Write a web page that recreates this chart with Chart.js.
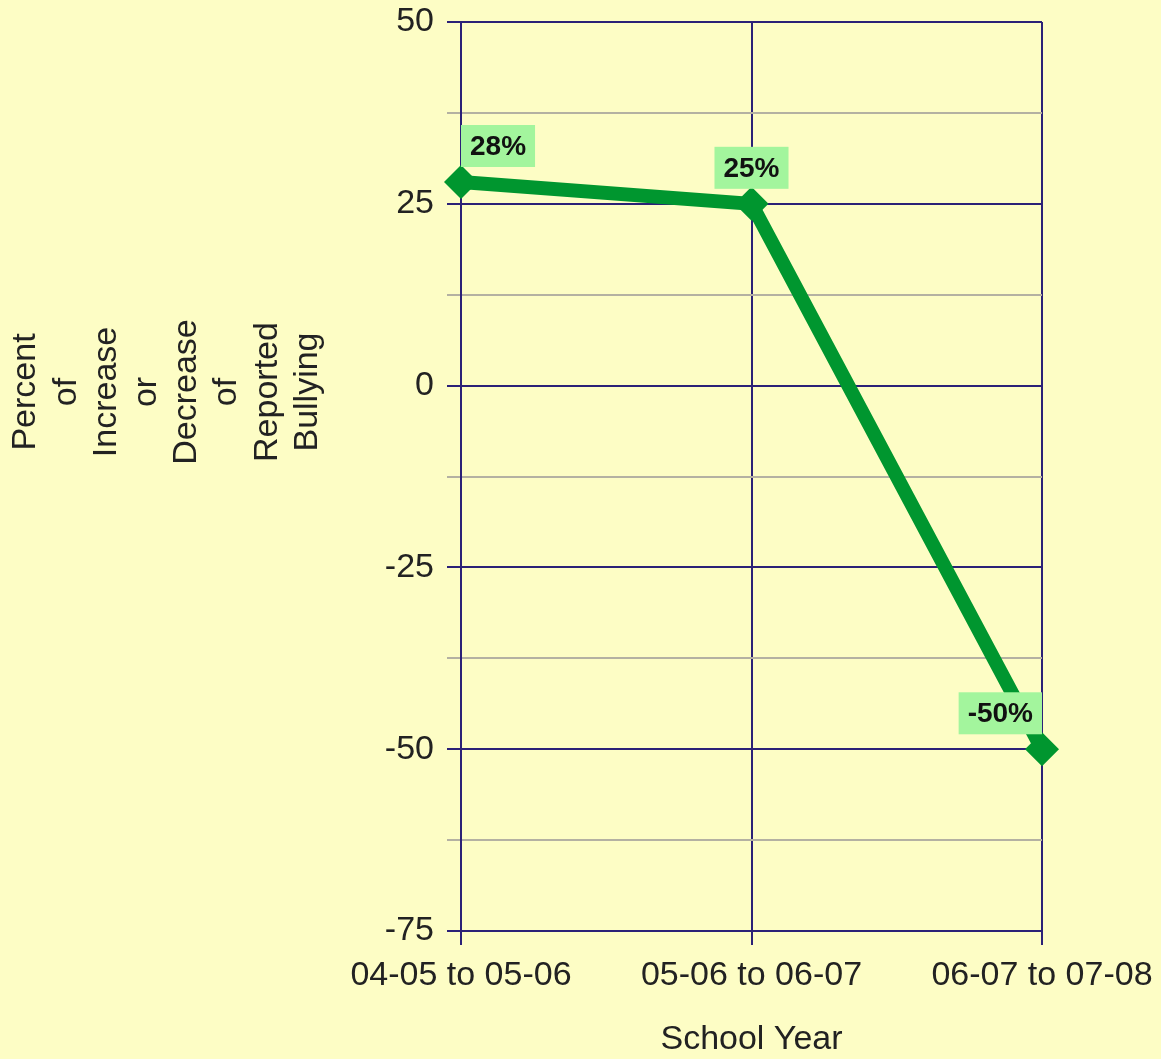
<!DOCTYPE html>
<html>
<head>
<meta charset="utf-8">
<script src="https://cdn.jsdelivr.net/npm/chart.js@4.4.1/dist/chart.umd.min.js"></script>
<style>
  html, body { margin: 0; padding: 0; background: #fdfdc5; }
  #wrap { width: 1161px; height: 1059px; }
</style>
</head>
<body>
<div id="wrap"><canvas id="chart" width="1161" height="1059"></canvas></div>
<script>
const schoolYears = ["04-05 to 05-06", "05-06 to 06-07", "06-07 to 07-08"];
const changePct = [28, 25, -50];
const yTitleLines = ["Percent", "of", "Increase", "or", "Decrease", "of", "Reported", "Bullying"];
const xTitle = "School Year";

const navy = "#2b2177";
const gray = "#b4b1a2";
const green = "#00962f";

// rotated multi-line y title, Excel style (not centred on the plot)
const yTitlePlugin = {
  id: "yTitle",
  afterDraw(chart) {
    const ctx = chart.ctx;
    ctx.save();
    ctx.translate(0, 392);
    ctx.rotate(-Math.PI / 2);
    ctx.font = "34px 'Liberation Sans', Arial, sans-serif";
    ctx.fillStyle = "#222";
    ctx.textAlign = "center";
    ctx.textBaseline = "middle";
    yTitleLines.forEach((line, i) => {
      ctx.fillText(line, 0, 26 + i * 40.2);
    });
    ctx.restore();
  }
};

// value labels on light green boxes
const pointLabels = {
  id: "pointLabels",
  afterDatasetsDraw(chart) {
    const ctx = chart.ctx;
    const area = chart.chartArea;
    const meta = chart.getDatasetMeta(0);
    ctx.save();
    ctx.font = "bold 28px 'Liberation Sans', Arial, sans-serif";
    ctx.textBaseline = "middle";
    ctx.textAlign = "center";
    meta.data.forEach((pt, i) => {
      const txt = changePct[i] + "%";
      const w = ctx.measureText(txt).width + 18;
      const h = 42;
      let left = pt.x - w / 2;
      if (left < area.left) left = area.left;
      if (left + w > area.right) left = area.right - w;
      const top = pt.y - 15 - h;
      ctx.fillStyle = "#a3f59d";
      ctx.fillRect(left, top, w, h);
      ctx.fillStyle = "#111";
      ctx.fillText(txt, left + w / 2, top + h / 2 + 1);
    });
    ctx.restore();
  }
};

new Chart(document.getElementById("chart"), {
  type: "line",
  data: {
    labels: schoolYears,
    datasets: [{
      data: changePct,
      borderColor: green,
      backgroundColor: green,
      borderWidth: 14,
      pointStyle: "rectRot",
      pointRadius: 17,
      pointBackgroundColor: green,
      pointBorderWidth: 0,
      tension: 0,
      clip: false
    }]
  },
  options: {
    responsive: false,
    animation: false,
    layout: { padding: { left: 0, right: 119, top: 22, bottom: 0 } },
    plugins: {
      legend: { display: false },
      tooltip: { enabled: false }
    },
    scales: {
      x: {
        offset: false,
        afterFit(scale) { scale.paddingLeft = 0; scale.paddingRight = 0; },
        border: { color: navy, width: 2 },
        grid: { color: navy, lineWidth: 2, tickLength: 14, drawOnChartArea: true },
        ticks: {
          color: "#222",
          padding: 10,
          maxRotation: 0,
          font: { family: "'Liberation Sans', Arial, sans-serif", size: 34 }
        },
        title: {
          display: true,
          text: xTitle,
          color: "#222",
          padding: { top: 14, bottom: 0 },
          font: { family: "'Liberation Sans', Arial, sans-serif", size: 34, lineHeight: 1.15 }
        }
      },
      y: {
        min: -75,
        max: 50,
        afterFit(scale) {
          scale.width = 461;
          scale.paddingTop = 0;
          scale.paddingBottom = 0;
        },
        border: { color: navy, width: 2 },
        grid: {
          lineWidth: 2,
          tickLength: 14,
          color: c => (c.tick && c.tick.value % 25 === 0) ? navy : gray
        },
        ticks: {
          stepSize: 12.5,
          padding: 13,
          color: "#222",
          font: { family: "'Liberation Sans', Arial, sans-serif", size: 34 },
          callback: v => (v % 25 === 0 ? v : "")
        }
      }
    }
  },
  plugins: [yTitlePlugin, pointLabels]
});
</script>
</body>
</html>
